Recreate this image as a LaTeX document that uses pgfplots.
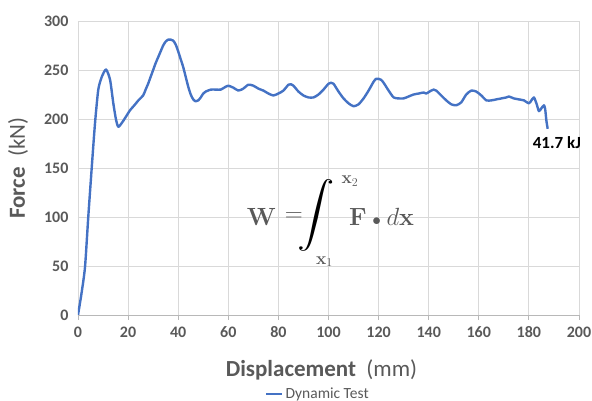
\documentclass[border=0pt]{standalone}
\usepackage{amsmath}
\usepackage{pgfplots}
\pgfplotsset{compat=1.18}
\usepackage[no-math]{fontspec}
\setmainfont{Carlito}
\usepackage{graphicx}
\usetikzlibrary{calc}
\definecolor{excelblue}{HTML}{4472C4}
\definecolor{txtgray}{HTML}{595959}
\definecolor{gridgray}{HTML}{D9D9D9}

\begin{document}
\begin{tikzpicture}
\begin{axis}[
    name=ax, at={(0pt,0pt)}, anchor=south west,
    scale only axis, width=501pt, height=294pt,
    xmin=0, xmax=200, ymin=0, ymax=300,
    xtick distance=20, ytick distance=50,
    grid=major, major grid style={gridgray, line width=0.9pt},
    axis x line*=bottom, axis y line*=left,
    x axis line style={gridgray!85!black, line width=0.9pt},
    y axis line style={draw=none},
    xtick align=outside, major tick length=5pt,
    xtick style={gridgray!85!black, line width=0.9pt},
    ytick style={draw=none},
    /pgf/number format/assume math mode=true,
    tick label style={font=\fontsize{16}{18}\selectfont\bfseries, text=txtgray},
    yticklabel style={xshift=-6pt},
    xticklabel style={yshift=-3pt},
    legend style={at={(0.479,-0.269)}, anchor=center, draw=none, fill=none,
                  font=\fontsize{15.5}{17}\selectfont, text=txtgray,
                  inner sep=0pt},
    legend image code/.code={\draw[#1] (0pt,0pt) -- (16pt,0pt);},
]
\addplot[excelblue, line width=2.4pt, smooth, tension=0.4, line join=round] coordinates {
 (0,0) (1.4,22) (2.8,49) (4.1,100) (5.5,151) (6.8,196) (8.1,230) (9.5,243)
 (11.2,250.5) (12.8,240) (14.1,216) (15.2,199) (16.1,192) (17.5,196)
 (18.8,201) (20.8,209) (22.5,214) (24.1,219) (26,224) (27,230)
 (28,236) (29,243) (30,250) (31,257) (32,263) (33,269) (34,275) (35,279)
 (36,281) (37,281) (38,280) (39,276) (40,269) (41,261) (42,253) (43,243)
 (44,233) (45,225) (46,220) (47,218) (48,219) (49,222) (50,226) (51,228)
 (53,230) (55,230) (57,230) (59,233) (60,234) (62,232) (64,229) (66,231)
 (68,235) (70,234) (72,231) (74,229) (76,226) (78,224) (80,226) (82,229)
 (84,235) (85,235.5) (86,234) (88,228) (90,224) (92,222) (94,222) (96,225)
 (98,230) (100,236) (101,237) (102,236) (104,228) (106,221) (108,216)
 (110,213) (112,215) (114,221) (116,229) (118,238) (119,241) (120,241)
 (121,240) (122,237) (124,229) (126,222) (128,221) (130,221) (132,223)
 (134,225) (136,226) (138,227) (139,226) (141,229) (142,230) (143,229)
 (145,224) (147,219) (149,215) (151,214) (153,217) (155,225) (157,229)
 (159,228) (161,224) (163,219) (165,219) (167,220) (169,221) (171,222)
 (172,223) (174,221) (176,220) (178,219) (180,216) (181,219) (182,222)
 (183,216) (184,208) (185,211) (186,214) (186.5,210) (187,198) (187.5,190)
};
\addlegendentry{Dynamic Test}

\node[anchor=west, font=\fontsize{17}{19}\selectfont\bfseries, text=black, inner sep=0pt]
  at (axis cs:181.5,175.5) {41.7 kJ};

% formula W = int_{x1}^{x2} F . dx, set piece by piece as in the original
\begin{scope}[every node/.style={inner sep=0pt, text=txtgray, font=\fontsize{24}{28}\selectfont}]
\node at (axis cs:73.3,100) {$\mathbf{W}$};
\node at (axis cs:86.2,100) {$=$};
\node[text=black] at (axis cs:95,102)
  {\scalebox{1.5}[1.3]{$\displaystyle\int$}};
\node[font=\fontsize{17}{20}\selectfont] at (axis cs:108.6,136.7) {$\mathbf{x}_2$};
\node[font=\fontsize{17}{20}\selectfont] at (axis cs:98.4,54.6) {$\mathbf{x}_1$};
\node at (axis cs:121.2,100) {$\mathbf{F}\mathbin{\scriptstyle\bullet} d\mathbf{x}$};
\end{scope}
\end{axis}

\node[anchor=base, text=txtgray, font=\fontsize{23}{26}\selectfont]
  at ($(ax.south)+(-7pt,-62pt)$) {\textbf{Displacement}\ \ (mm)};
\node[anchor=center, rotate=90, text=txtgray, font=\fontsize{23}{26}\selectfont]
  at ($(ax.west)+(-60pt,0pt)$) {\textbf{Force}\ \ (kN)};

\pgfresetboundingbox
\useasboundingbox (-78pt,-86pt) rectangle (514pt,315pt);
\end{tikzpicture}
\end{document}
